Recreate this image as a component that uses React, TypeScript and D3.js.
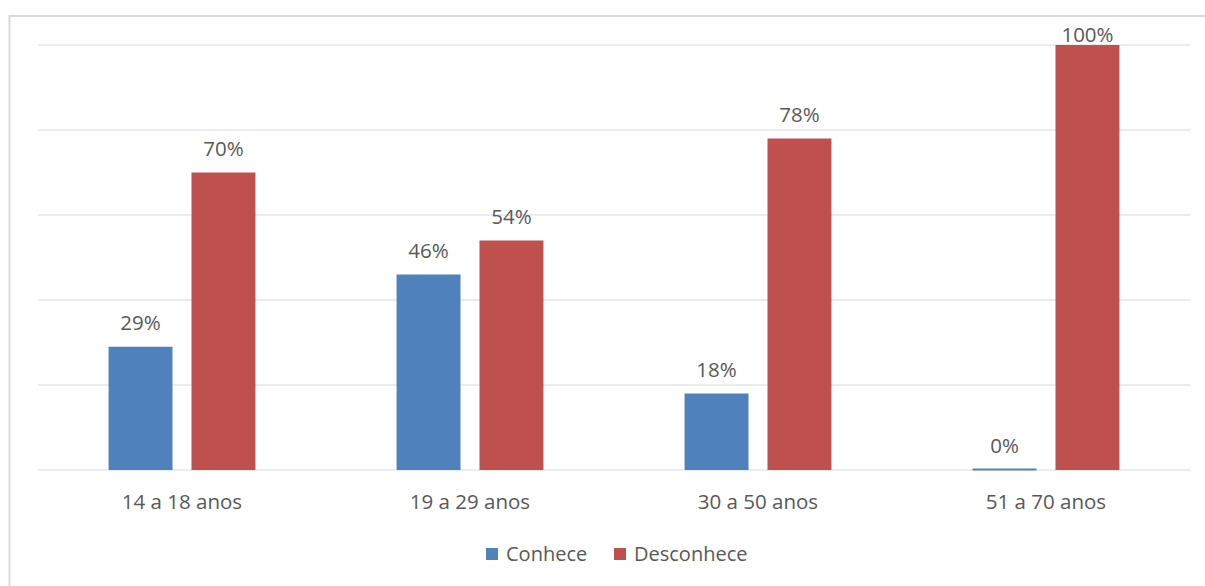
import React from "react";
import * as d3 from "d3";

const categories = ["14 a 18 anos", "19 a 29 anos", "30 a 50 anos", "51 a 70 anos"];
const seriesNames = ["Conhece", "Desconhece"];
const conhece = [29, 46, 18, 0];
const desconhece = [70, 54, 78, 100];
const gridTicks = [0, 20, 40, 60, 80, 100];

const colors: Record<string, string> = { Conhece: "#4F81BD", Desconhece: "#C0504D" };
const textColor = "#595959";
const gridColor = "#D9D9D9";
const font = "'Open Sans', 'Noto Sans', sans-serif";

const W = 1205;
const H = 586;
const plot = { left: 38, right: 1190, top: 45, bottom: 470 };

export default function App() {
  const x0 = d3
    .scaleBand<string>()
    .domain(categories)
    .range([plot.left, plot.right])
    .paddingInner(0.49)
    .paddingOuter(0.245);
  const x1 = d3
    .scaleBand<string>()
    .domain(seriesNames)
    .range([0, x0.bandwidth()])
    .paddingInner(0.229);
  const y = d3.scaleLinear().domain([0, 100]).range([plot.bottom, plot.top]);

  const rows = categories.map((c, i) => ({
    category: c,
    values: [
      { name: "Conhece", value: conhece[i] },
      { name: "Desconhece", value: desconhece[i] },
    ],
  }));

  return (
    <svg
      width={W}
      height={H}
      style={{ position: "absolute", left: 0, top: 0, background: "#fff" }}
      fontFamily={font}
    >
      <rect x={9.5} y={16} width={W + 20} height={H + 20} fill="#fff" stroke={gridColor} strokeWidth={2} />
      {gridTicks.map((t) => (
        <line key={t} x1={plot.left} x2={plot.right} y1={y(t)} y2={y(t)} stroke={gridColor} strokeWidth={1} />
      ))}
      {rows.map((r) => (
        <g key={r.category} transform={`translate(${x0(r.category)},0)`}>
          {r.values.map((v) => {
            const top = y(v.value);
            const h = Math.max(plot.bottom - top, 2);
            const bx = x1(v.name)!;
            const labelY = Math.max(top - 17, plot.top - 3);
            return (
              <g key={v.name}>
                <rect x={bx} y={plot.bottom - h + (v.value === 0 ? 0.5 : 0)} width={x1.bandwidth()} height={h} fill={colors[v.name]} />
                <text
                  x={bx + x1.bandwidth() / 2}
                  y={labelY}
                  textAnchor="middle"
                  fontSize={20.5}
                  fill={textColor}
                >
                  {v.value}%
                </text>
              </g>
            );
          })}
          <text x={x0.bandwidth() / 2} y={509} textAnchor="middle" fontSize={20.5} fill={textColor}>
            {r.category}
          </text>
        </g>
      ))}
      <g>
        <rect x={486} y={548} width={12} height={12} fill={colors.Conhece} />
        <text x={506} y={561} fontSize={20} fill={textColor}>Conhece</text>
        <rect x={614} y={548} width={12} height={12} fill={colors.Desconhece} />
        <text x={634} y={561} fontSize={20} fill={textColor}>Desconhece</text>
      </g>
    </svg>
  );
}
